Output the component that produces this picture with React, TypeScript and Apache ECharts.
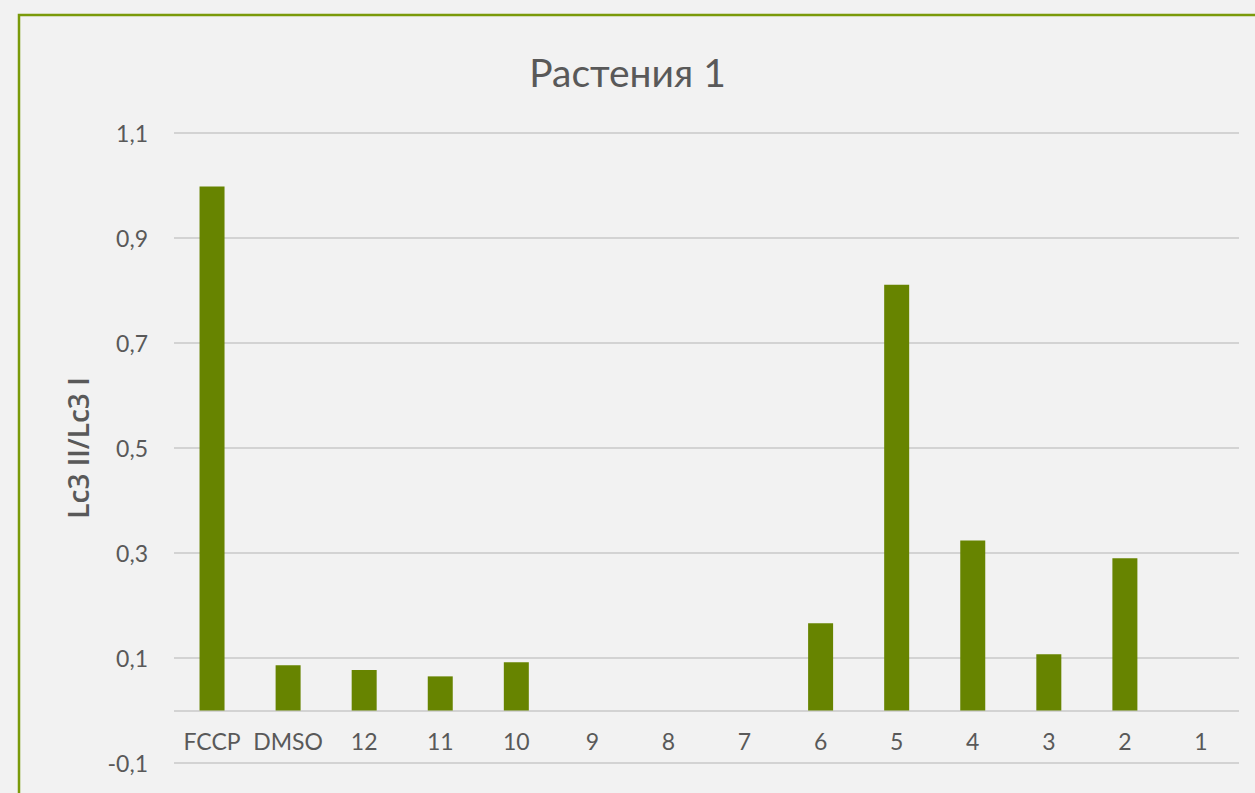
import React, { useEffect, useRef } from "react";
import * as echarts from "echarts";

const categories = ["FCCP", "DMSO", "12", "11", "10", "9", "8", "7", "6", "5", "4", "3", "2", "1"];
const values = [0.998, 0.086, 0.077, 0.065, 0.092, 0, 0, 0, 0.166, 0.811, 0.324, 0.107, 0.29, 0];
const gridValues = [-0.1, 0, 0.1, 0.3, 0.5, 0.7, 0.9, 1.1];
const titleText = "Растения 1";
const yAxisName = "Lc3 II/Lc3 I";
const yMin = -0.1;
const yMax = 1.1;
const yStep = 0.1;

export default function App() {
  const ref = useRef<HTMLDivElement>(null);
  useEffect(() => {
    if (!ref.current) return;
    const chart = echarts.init(ref.current, undefined, { renderer: "svg" });
    const textColor = "#595959";
    const font = "Lato";
    chart.setOption({
      animation: false,
      backgroundColor: "#f2f2f2",
      title: {
        text: titleText,
        left: "center",
        top: 47,
        textStyle: { fontFamily: font, fontSize: 39, fontWeight: "normal", color: textColor },
      },
      graphic: [
        {
          type: "rect",
          shape: { x: 19, y: 15, width: 1400, height: 1000 },
          style: { fill: "none", stroke: "#7a9a0a", lineWidth: 2.5 },
          silent: true,
        },
      ],
      grid: { left: 174, right: 16, top: 133, bottom: 30, containLabel: false, outerBoundsMode: "none" },
      xAxis: {
        type: "category",
        data: categories,
        position: "bottom",
        axisLine: { show: false, onZero: false },
        axisTick: { show: false },
        axisLabel: { color: textColor, fontFamily: font, fontSize: 23, margin: -34, interval: 0 },
      },
      yAxis: {
        type: "value",
        min: yMin,
        max: yMax,
        interval: yStep,
        name: yAxisName,
        nameLocation: "middle",
        nameRotate: 90,
        nameGap: 82,
        nameTextStyle: { color: textColor, fontFamily: "Open Sans", fontSize: 28, fontWeight: 600 },
        axisLine: { show: false },
        axisTick: { show: false },
        axisLabel: {
          color: textColor,
          fontFamily: font,
          fontSize: 23,
          margin: 26,
          formatter: (v: number) => {
            const k = Math.round(v * 10);
            if (Math.abs(k) % 2 === 0) return "";
            return (k / 10).toFixed(1).replace(".", ",");
          },
        },
        splitLine: { show: false },
      },
      series: [
        {
          type: "line",
          data: [],
          z: 1,
          silent: true,
          markLine: {
            z: 1,
            silent: true,
            symbol: "none",
            label: { show: false },
            lineStyle: { color: "#d3d3d3", width: 2, type: "solid" },
            data: gridValues.map((v) => ({ yAxis: v })),
          },
        },
        {
          type: "bar",
          data: values,
          barWidth: 25,
          z: 3,
          itemStyle: { color: "#678400" },
        },
      ],
    });
    return () => chart.dispose();
  }, []);
  return <div ref={ref} style={{ position: "absolute", left: 0, top: 0, width: 1255, height: 793 }} />;
}
